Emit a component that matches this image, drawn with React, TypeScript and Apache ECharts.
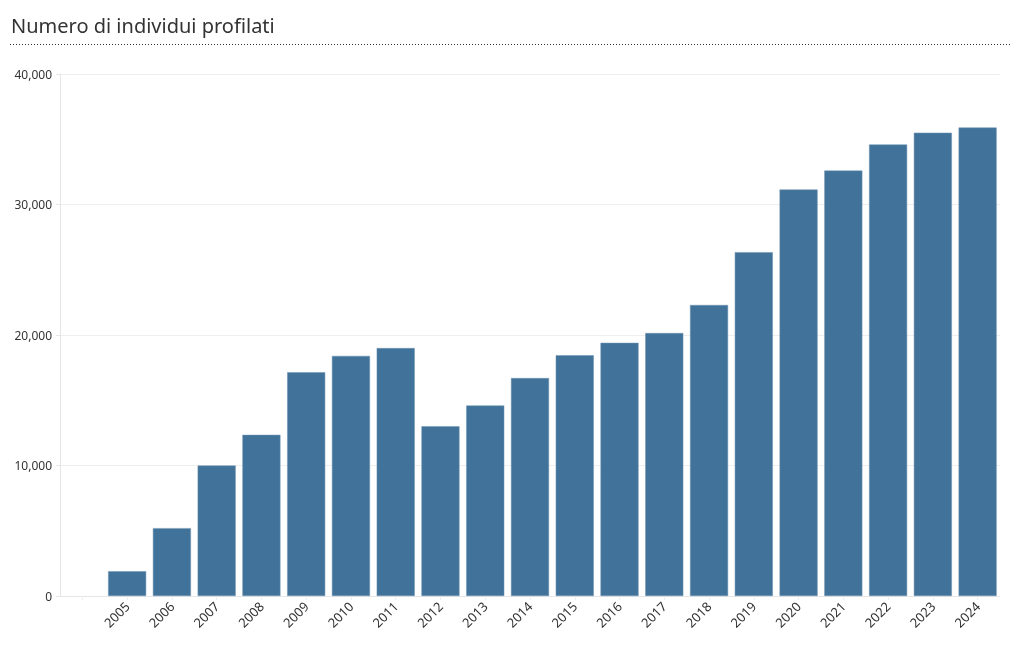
import React, { useEffect, useRef } from "react";
import * as echarts from "echarts";

const title = "Numero di individui profilati";
const years = ["", "2005", "2006", "2007", "2008", "2009", "2010", "2011", "2012", "2013", "2014", "2015", "2016", "2017", "2018", "2019", "2020", "2021", "2022", "2023", "2024"];
const values = [null, 1900, 5200, 10000, 12350, 17150, 18400, 19000, 13000, 14600, 16700, 18450, 19400, 20150, 22300, 26350, 31150, 32600, 34600, 35500, 35900];
const yTicks = [0, 10000, 20000, 30000, 40000];

export default function App() {
  const ref = useRef<HTMLDivElement>(null);
  useEffect(() => {
    if (!ref.current) return;
    const chart = echarts.init(ref.current, null, { renderer: "svg" });
    const font = "'Source Sans Pro', 'Noto Sans', 'Open Sans', sans-serif";
    chart.setOption({
      animation: false,
      textStyle: { fontFamily: font },
      title: {
        text: title,
        left: 6,
        top: 10,
        textStyle: { fontSize: 20, fontWeight: "normal", color: "#333", fontFamily: font },
      },
      graphic: [
        {
          type: "line",
          shape: { x1: 10, y1: 44.5, x2: 1010, y2: 44.5 },
          style: { stroke: "#333", lineWidth: 1, lineDash: [1, 2] },
        },
      ],
      grid: { left: 60, right: 20, top: 74, bottom: 54, containLabel: false },
      xAxis: {
        type: "category",
        data: years,
        axisLine: { show: true, lineStyle: { color: "#e6e6e6" } },
        axisTick: { show: true, alignWithLabel: true, lineStyle: { color: "#eee" }, length: 4 },
        axisLabel: { rotate: 45, fontSize: 13, color: "#333", margin: 8, interval: 0, fontFamily: font },
      },
      yAxis: {
        type: "value",
        min: yTicks[0],
        max: yTicks[yTicks.length - 1],
        interval: 10000,
        axisLine: { show: true, lineStyle: { color: "#e6e6e6" } },
        axisTick: { show: true, length: 4, lineStyle: { color: "#e6e6e6" } },
        splitLine: { lineStyle: { color: "#eeeeee" } },
        axisLabel: {
          fontSize: 12,
          color: "#333",
          margin: 8,
          fontFamily: font,
          formatter: (v: number) => v.toLocaleString("en-US"),
        },
      },
      series: [
        {
          type: "bar",
          data: values,
          barCategoryGap: "15%",
          itemStyle: { color: "#41739a", borderColor: "#6f93b1", borderWidth: 0.5 },
        },
      ],
    });
    return () => chart.dispose();
  }, []);
  return <div ref={ref} style={{ position: "fixed", left: 0, top: 0, width: 1020, height: 650 }} />;
}
